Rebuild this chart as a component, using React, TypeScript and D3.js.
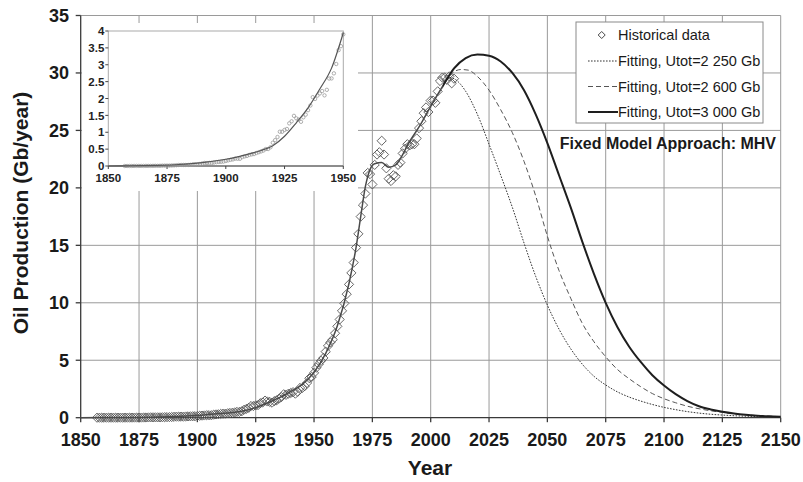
import React from 'react';
import * as d3 from 'd3';

const W = 803;
const H = 482;

// Axis ticks
const xTicks = [1850, 1875, 1900, 1925, 1950, 1975, 2000, 2025, 2050, 2075, 2100, 2125, 2150];
const yTicks = [0, 5, 10, 15, 20, 25, 30, 35];
const insetXTicks = [1850, 1875, 1900, 1925, 1950];
const insetYTicks = [0, 0.5, 1, 1.5, 2, 2.5, 3, 3.5, 4];

// Historical world oil production (Gb/year), one value per year from 1857
const histStartYear = 1857;
const histValues = [
  0.0002, 0.0004, 0.0005, 0.0005, 0.0021, 0.003, 0.0026, 0.0023, 0.0025, 0.0036, 0.0034, 0.0036, 0.0043,
  0.0058, 0.0055, 0.0068, 0.0099, 0.011, 0.011, 0.011, 0.015, 0.018, 0.024,
  0.03, 0.031, 0.031, 0.03, 0.031, 0.037, 0.047, 0.049, 0.052, 0.061,
  0.077, 0.091, 0.09, 0.093, 0.089, 0.104, 0.114, 0.121, 0.125, 0.131,
  0.149, 0.167, 0.182, 0.195, 0.218, 0.215, 0.213, 0.264, 0.285, 0.298,
  0.328, 0.344, 0.353, 0.385, 0.408, 0.432, 0.457, 0.503, 0.503, 0.555,
  0.689, 0.766, 0.859, 1.016, 1.014, 1.069, 1.097, 1.263, 1.325, 1.486,
  1.412, 1.373, 1.31, 1.442, 1.522, 1.654, 1.792, 2.039, 1.988, 2.086,
  2.15, 2.221, 2.093, 2.257, 2.592, 2.595, 2.745, 3.022, 3.433, 3.55,
  3.9, 4.35, 4.65, 4.95, 5.2, 5.75, 6.25, 6.55, 6.8, 7.35,
  7.95, 8.55, 9.3, 9.95, 10.75, 11.6, 12.6, 13.5, 14.8, 16.0,
  17.5, 18.5, 19.5, 21.3, 21.2, 20.3, 22.0, 22.9, 23.1, 24.1,
  22.9, 21.7, 20.8, 20.6, 21.1, 21.0, 22.0, 22.2, 23.0, 23.4,
  23.8, 23.7, 23.8, 23.8, 24.3, 25.2, 25.8, 26.5, 27.0, 26.6,
  27.6, 27.6, 27.4, 28.4, 29.3, 29.6, 29.6, 29.4, 29.7, 29.1,
  29.5,
];

// Fitted curve over the historical period (common to all three scenarios)
const baseFitYears = [1850, 1860, 1870, 1880, 1890, 1900, 1905, 1910, 1915, 1920, 1925, 1930, 1935, 1940, 1945, 1950, 1955, 1960, 1965, 1968, 1970, 1972, 1974, 1976, 1979, 1982, 1985, 1988, 1990, 1995, 2000, 2005];
const baseFitValues = [0, 0.008, 0.02, 0.045, 0.1, 0.2, 0.27, 0.36, 0.46, 0.6, 0.88, 1.28, 1.72, 2.28, 2.9, 3.95, 5.6, 8.0, 11.7, 14.8, 17.5, 20.1, 21.6, 22.1, 22.2, 21.8, 22.0, 22.9, 23.7, 25.3, 27.1, 28.8];

// Projections for the three ultimate-recoverable scenarios
const fit2250Years = [2008, 2010, 2015, 2020, 2025, 2030, 2035, 2040, 2045, 2050, 2055, 2060, 2065, 2070, 2075, 2080, 2085, 2090, 2095, 2100, 2105, 2110, 2115, 2120, 2125, 2130, 2140, 2150];
const fit2250Values = [29.6, 29.5, 28.4, 26.4, 23.8, 21.1, 18.3, 15.2, 12.3, 9.8, 7.7, 6.0, 4.65, 3.6, 2.85, 2.25, 1.8, 1.45, 1.15, 0.9, 0.7, 0.53, 0.4, 0.3, 0.23, 0.17, 0.1, 0.05];

const fit2600Years = [2010, 2013, 2016, 2020, 2025, 2030, 2035, 2040, 2045, 2050, 2055, 2060, 2065, 2070, 2075, 2080, 2085, 2090, 2095, 2100, 2105, 2110, 2115, 2120, 2125, 2130, 2140, 2150];
const fit2600Values = [30.1, 30.3, 30.25, 29.7, 28.5, 26.8, 24.8, 22.3, 19.3, 15.8, 12.8, 10.4, 8.2, 6.6, 5.3, 4.2, 3.4, 2.7, 2.1, 1.65, 1.3, 1.0, 0.78, 0.6, 0.47, 0.35, 0.18, 0.09];

const fit3000Years = [2010, 2015, 2020, 2025, 2030, 2035, 2040, 2045, 2050, 2055, 2060, 2065, 2070, 2075, 2080, 2085, 2090, 2095, 2100, 2105, 2110, 2115, 2120, 2125, 2130, 2135, 2140, 2145, 2150];
const fit3000Values = [30.4, 31.3, 31.6, 31.5, 31.0, 30.0, 28.5, 26.4, 23.9, 21.1, 18.3, 15.3, 12.5, 10.0, 7.9, 6.2, 4.85, 3.7, 2.8, 2.05, 1.45, 1.0, 0.72, 0.52, 0.37, 0.26, 0.18, 0.12, 0.08];

const legendLabels = ['Historical data', 'Fitting, Utot=2 250 Gb', 'Fitting, Utot=2 600 Gb', 'Fitting, Utot=3 000 Gb'];
const noteText = 'Fixed Model Approach: MHV';

const FONT = '"Liberation Sans", Arial, Helvetica, sans-serif';

type Pt = [number, number];

function zipPts(years: number[], values: number[]): Pt[] {
  return years.map((yr, i) => [yr, values[i]] as Pt);
}

export default function App() {
  const x = d3.scaleLinear().domain([1850, 2150]).range([80.7, 780.7]);
  const y = d3.scaleLinear().domain([0, 35]).range([417.7, 15.5]);

  const ix = d3.scaleLinear().domain([1850, 1950]).range([108.3, 343.3]);
  const iy = d3.scaleLinear().domain([0, 4]).range([166, 31]);

  const hist: Pt[] = histValues.map((v, i) => [histStartYear + i, v] as Pt);
  const base = zipPts(baseFitYears, baseFitValues);

  const line = d3
    .line<Pt>()
    .x((d) => x(d[0]))
    .y((d) => y(d[1]))
    .curve(d3.curveMonotoneX);

  const insetLine = d3
    .line<Pt>()
    .x((d) => ix(d[0]))
    .y((d) => iy(d[1]))
    .curve(d3.curveMonotoneX);

  const scenarios = [
    { pts: base.concat(zipPts(fit2250Years, fit2250Values)), stroke: '#333', width: 1, dash: '1.6,1.4' },
    { pts: base.concat(zipPts(fit2600Years, fit2600Values)), stroke: '#555', width: 1, dash: '5,3' },
    { pts: base.concat(zipPts(fit3000Years, fit3000Values)), stroke: '#1e1e1e', width: 2, dash: undefined as string | undefined },
  ];

  const diamond = 'M0,-4.6L4.6,0L0,4.6L-4.6,0Z';
  const plotL = x(1850);
  const plotR = x(2150);
  const plotT = y(35);
  const plotB = y(0);
  const splitX = x(2005);

  const insetHist = hist.filter((d) => d[0] <= 1950);
  const insetFit = base.filter((d) => d[0] <= 1950);

  const legendRowY = [35, 61, 86.5, 112];
  const sampleX0 = 588;
  const sampleX1 = 618;

  return (
    <svg
      width={W}
      height={H}
      viewBox={`0 0 ${W} ${H}`}
      style={{ position: 'absolute', left: 0, top: 0, background: '#fff' }}
      fontFamily={FONT}
    >
      <defs>
        <clipPath id="histClip">
          <rect x={0} y={0} width={splitX} height={H} />
        </clipPath>
        <clipPath id="projClip">
          <rect x={splitX} y={0} width={W - splitX} height={H} />
        </clipPath>
      </defs>

      {/* grid */}
      <g stroke="#9a9a9a" strokeWidth={1}>
        {xTicks.slice(1).map((t) => (
          <line key={'gx' + t} x1={x(t)} x2={x(t)} y1={plotT} y2={plotB} />
        ))}
        {yTicks.slice(1).map((t) => (
          <line key={'gy' + t} x1={plotL} x2={plotR} y1={y(t)} y2={y(t)} />
        ))}
      </g>

      {/* axes */}
      <g stroke="#3a3a3a" strokeWidth={1.3}>
        <line x1={plotL} x2={plotL} y1={plotT} y2={plotB} />
        <line x1={plotL} x2={plotR} y1={plotB} y2={plotB} />
        {yTicks.map((t) => (
          <line key={'ty' + t} x1={plotL - 5} x2={plotL} y1={y(t)} y2={y(t)} />
        ))}
        {xTicks.map((t) => (
          <line key={'tx' + t} x1={x(t)} x2={x(t)} y1={plotB} y2={plotB + 4.5} />
        ))}
      </g>

      {/* tick labels */}
      <g fontSize={18} fontWeight="bold" fill="#1a1a1a">
        {yTicks.map((t) => (
          <text key={'ly' + t} x={69} y={y(t)} dy="0.36em" textAnchor="end">
            {t}
          </text>
        ))}
        {xTicks.map((t) => (
          <text key={'lx' + t} x={x(t)} y={446} textAnchor="middle">
            {t}
          </text>
        ))}
      </g>

      {/* axis titles */}
      <text x={430} y={475} textAnchor="middle" fontSize={21} fontWeight="bold" fill="#1a1a1a">
        Year
      </text>
      <text
        transform="translate(28,213) rotate(-90)"
        textAnchor="middle"
        fontSize={21}
        fontWeight="bold"
        fill="#1a1a1a"
      >
        Oil Production (Gb/year)
      </text>

      {/* historical data */}
      <g fill="none" stroke="#555" strokeWidth={0.9}>
        {hist.map((d) => (
          <path key={'h' + d[0]} d={diamond} transform={`translate(${x(d[0])},${y(d[1])})`} />
        ))}
      </g>

      {/* fitted curve over the historical period */}
      <path d={line(scenarios[2].pts) || ''} fill="none" stroke="#4a4a4a" strokeWidth={1.5} clipPath="url(#histClip)" />

      {/* projections */}
      {scenarios.map((s, i) => (
        <path
          key={'s' + i}
          d={line(s.pts) || ''}
          fill="none"
          stroke={s.stroke}
          strokeWidth={s.width}
          strokeDasharray={s.dash}
          clipPath="url(#projClip)"
        />
      ))}

      {/* inset: early production 1850-1950 */}
      <rect x={82} y={23} width={276} height={168} fill="#fff" />
      <rect x={ix(1850)} y={iy(4)} width={ix(1950) - ix(1850)} height={iy(0) - iy(4)} fill="#fff" stroke="#aaa" strokeWidth={1} />
      <g stroke="#444" strokeWidth={1}>
        <line x1={ix(1850)} x2={ix(1950)} y1={iy(0)} y2={iy(0)} />
        {insetYTicks.map((t) => (
          <line key={'ity' + t} x1={ix(1850) - 3} x2={ix(1850)} y1={iy(t)} y2={iy(t)} />
        ))}
        {insetXTicks.map((t) => (
          <line key={'itx' + t} x1={ix(t)} x2={ix(t)} y1={iy(0)} y2={iy(0) + 3} />
        ))}
      </g>
      <g fontSize={11.5} fontWeight="bold" fill="#222">
        {insetYTicks.map((t) => (
          <text key={'ily' + t} x={ix(1850) - 4} y={iy(t)} dy="0.36em" textAnchor="end">
            {t}
          </text>
        ))}
        {insetXTicks.map((t) => (
          <text key={'ilx' + t} x={ix(t)} y={182} textAnchor="middle">
            {t}
          </text>
        ))}
      </g>
      <g fill="none" stroke="#9a9a9a" strokeWidth={0.8}>
        {insetHist.map((d) => (
          <circle key={'ih' + d[0]} cx={ix(d[0])} cy={iy(d[1])} r={1.7} />
        ))}
      </g>
      <path d={insetLine(insetFit) || ''} fill="none" stroke="#555" strokeWidth={1.2} />

      {/* legend */}
      <rect x={576} y={22} width={187} height={101} fill="#fff" stroke="#8a8a8a" strokeWidth={1} />
      <path d={'M0,-3.5L3.5,0L0,3.5L-3.5,0Z'} transform={`translate(601.7,${legendRowY[0]})`} fill="none" stroke="#333" strokeWidth={0.9} />
      {scenarios.map((s, i) => (
        <line
          key={'ls' + i}
          x1={sampleX0}
          x2={sampleX1}
          y1={legendRowY[i + 1]}
          y2={legendRowY[i + 1]}
          stroke={s.stroke}
          strokeWidth={s.width}
          strokeDasharray={s.dash}
        />
      ))}
      <g fontSize={14.5} fill="#1a1a1a">
        {legendLabels.map((lab, i) => (
          <text key={'lt' + i} x={618} y={legendRowY[i]} dy="0.36em">
            {lab}
          </text>
        ))}
      </g>

      <text x={776} y={149} textAnchor="end" fontSize={16} fontWeight="bold" fill="#1a1a1a">
        {noteText}
      </text>
    </svg>
  );
}
